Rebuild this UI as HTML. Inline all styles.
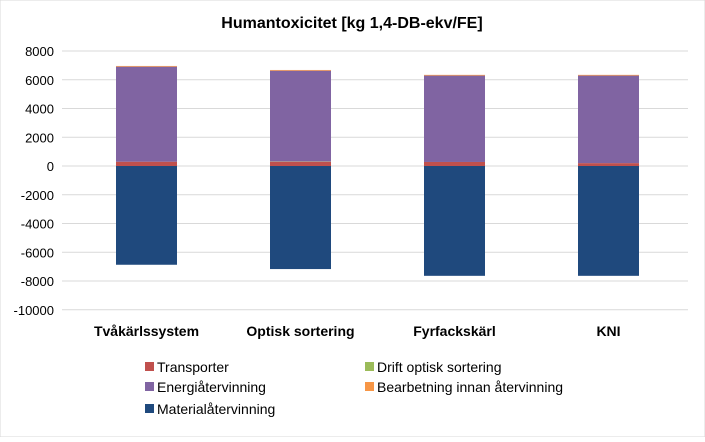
<!DOCTYPE html>
<html><head><meta charset="utf-8"><style>
body{margin:0;background:#fff;font-family:"Liberation Sans",sans-serif}
svg text{font-family:"Liberation Sans",sans-serif}
</style></head><body>
<svg width="705" height="437">
<rect x="0" y="0" width="705" height="437" fill="#fff" stroke="#d9d9d9"/>
<text x="352" y="28" text-anchor="middle" font-size="16" font-weight="bold">Humantoxicitet [kg 1,4-DB-ekv/FE]</text>
<g id="grid"></g><g id="bars"></g><g id="xl"></g><g id="legend"></g>
</svg>
<script>
const categories=["Tvåkärlssystem","Optisk sortering","Fyrfackskärl","KNI"];
const transporter=[300,300,280,200];
const drift=[0,20,0,0];
const energi=[6610,6310,6010,6090];
const bearbetning=[50,50,50,50];
const material=[-6870,-7170,-7640,-7640];
const ticks=[8000,6000,4000,2000,0,-2000,-4000,-6000,-8000,-10000];
const NS="http://www.w3.org/2000/svg";
const y=v=>166-v*0.014375;
const x=i=>146.5+i*154;
const bw=61;
function mk(t,a,p){const e=document.createElementNS(NS,t);for(const k in a)e.setAttribute(k,a[k]);p.appendChild(e);return e;}
const g=document.getElementById("grid");
ticks.forEach(t=>{
 const l=mk("line",{x1:62,x2:688,y1:y(t),y2:y(t),stroke:"#d9d9d9"},g);
 
 
 const tx=mk("text",{x:54,y:y(t)+5,"text-anchor":"end","font-size":"13"},g);
 tx.textContent=t;
 
 
});
const b=document.getElementById("bars");
const series=[[transporter,"#c0504d","transporter"],[drift,"#9bbb59","drift"],[energi,"#8064a2","energi"],[bearbetning,"#f79646","bearbetning"]];
categories.forEach((c,i)=>{
 let acc=0;
 series.forEach(([arr,col,nm])=>{
  const v=arr[i];
  const r=mk("rect",{x:x(i)-bw/2,y:y(acc+v),width:bw,height:y(acc)-y(acc+v),fill:col},b);
  
  
  acc+=v;
 });
 const r=mk("rect",{x:x(i)-bw/2,y:y(0),width:bw,height:y(material[i])-y(0),fill:"#1f497d"},b);
 
 
 const t=mk("text",{x:x(i),y:336,"text-anchor":"middle","font-size":"14","font-weight":"bold"},document.getElementById("xl"));
 t.textContent=c;
 
 
});
const lg=document.getElementById("legend");
const items=[["Transporter","#c0504d",145,367],["Drift optisk sortering","#9bbb59",365,367],["Energiåtervinning","#8064a2",145,387],["Bearbetning innan återvinning","#f79646",365,387],["Materialåtervinning","#1f497d",145,409]];
items.forEach(([n,c,lx,ly])=>{
 const s=mk("rect",{x:lx,y:ly-5,width:9,height:9,fill:c},lg);
 
 
 const t=mk("text",{x:lx+12,y:ly+5,"font-size":"14"},lg);
 t.textContent=n;
 
 
});
</script>
</body></html>
